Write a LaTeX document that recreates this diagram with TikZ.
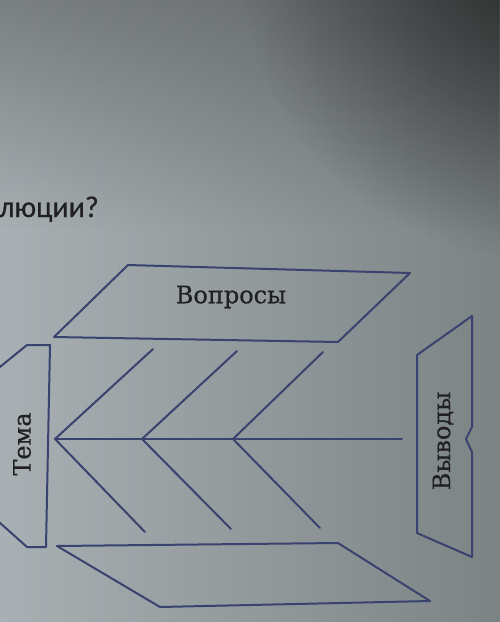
\documentclass[tikz,border=0pt]{standalone}
\usepackage{fontspec}
\setmainfont{DejaVu Serif}[FakeBold=0.6]
\newfontfamily\qfont{Carlito}[FakeBold=0.5]
\usetikzlibrary{fadings}
\tikzfading[name=softspot, inner color=transparent!0, outer color=transparent!100]
\definecolor{inkblue}{RGB}{58,66,112}
\definecolor{inktext}{RGB}{32,32,36}
\definecolor{paperL}{RGB}{168,176,179}
\definecolor{paperR}{RGB}{124,131,133}
\tikzset{
  outline/.style={draw=inkblue, line width=2pt, line join=round},
  bone/.style={draw=inkblue, line width=2pt, line cap=round},
  label/.style={text=inktext, font=\fontsize{24}{28}\selectfont, inner sep=0pt},
}
\begin{document}
\begin{tikzpicture}[x=1pt, y=-1pt]
\useasboundingbox (0,0) rectangle (500,622);
% paper background
\shade[left color=paperL, right color=paperR] (0,0) rectangle (500,622);
\fill[black!85, opacity=0.35, path fading=south] (0,0) rectangle (500,230);
\fill[black!90, opacity=0.75, path fading=softspot] (540,-40) circle (300);
% question text
\node[anchor=base west, inner sep=0pt, text=inktext, font=\qfont\fontsize{30}{34}\selectfont] (q) at (-1,217) {люции?};
% top parallelogram
\coordinate (t1) at (128,265);
\coordinate (t2) at (410,273);
\coordinate (t3) at (338,342);
\coordinate (t4) at (54,337);
\draw[outline] (t1) -- (t2) -- (t3) -- (t4) -- cycle;
\node[label] (vopr) at (231,297) {Вопросы};
% bottom parallelogram
\coordinate (b1) at (57,546);
\coordinate (b2) at (338,543);
\coordinate (b3) at (430,601);
\coordinate (b4) at (160,607);
\draw[outline] (b1) -- (b2) -- (b3) -- (b4) -- cycle;
% Tema box
\coordinate (m1) at (-10,375);
\coordinate (m2) at (27,345);
\coordinate (m3) at (50,345);
\coordinate (m4) at (46,547);
\coordinate (m5) at (27,547);
\coordinate (m6) at (-10,514);
\draw[outline] (m1) -- (m2) -- (m3) -- (m4) -- (m5) -- (m6);
\node[label, rotate=90] (tema) at (22,444) {Тема};
% Vyvody box
\coordinate (v1) at (472,316);
\coordinate (v2) at (417,355);
\coordinate (v3) at (417,533);
\coordinate (v4) at (472,557);
\coordinate (v5) at (472,452);
\coordinate (v6) at (466,439);
\coordinate (v7) at (472,427);
\draw[outline] (v1) -- (v2) -- (v3) -- (v4) -- (v5) -- (v6) -- (v7) -- cycle;
\node[label, rotate=90] (vyv) at (443,441) {Выводы};
% fishbone
\coordinate (s0) at (55,439);
\coordinate (s1) at (142,439);
\coordinate (s2) at (233,439);
\coordinate (s3) at (402,439);
\coordinate (u0) at (153,349);
\coordinate (u1) at (237,351);
\coordinate (u2) at (323,352);
\coordinate (d0) at (145,532);
\coordinate (d1) at (231,529);
\coordinate (d2) at (320,528);
\draw[bone] (s0) -- (s3);
\draw[bone] (u0) -- (s0) -- (d0);
\draw[bone] (u1) -- (s1) -- (d1);
\draw[bone] (u2) -- (s2) -- (d2);
\end{tikzpicture}
\end{document}
